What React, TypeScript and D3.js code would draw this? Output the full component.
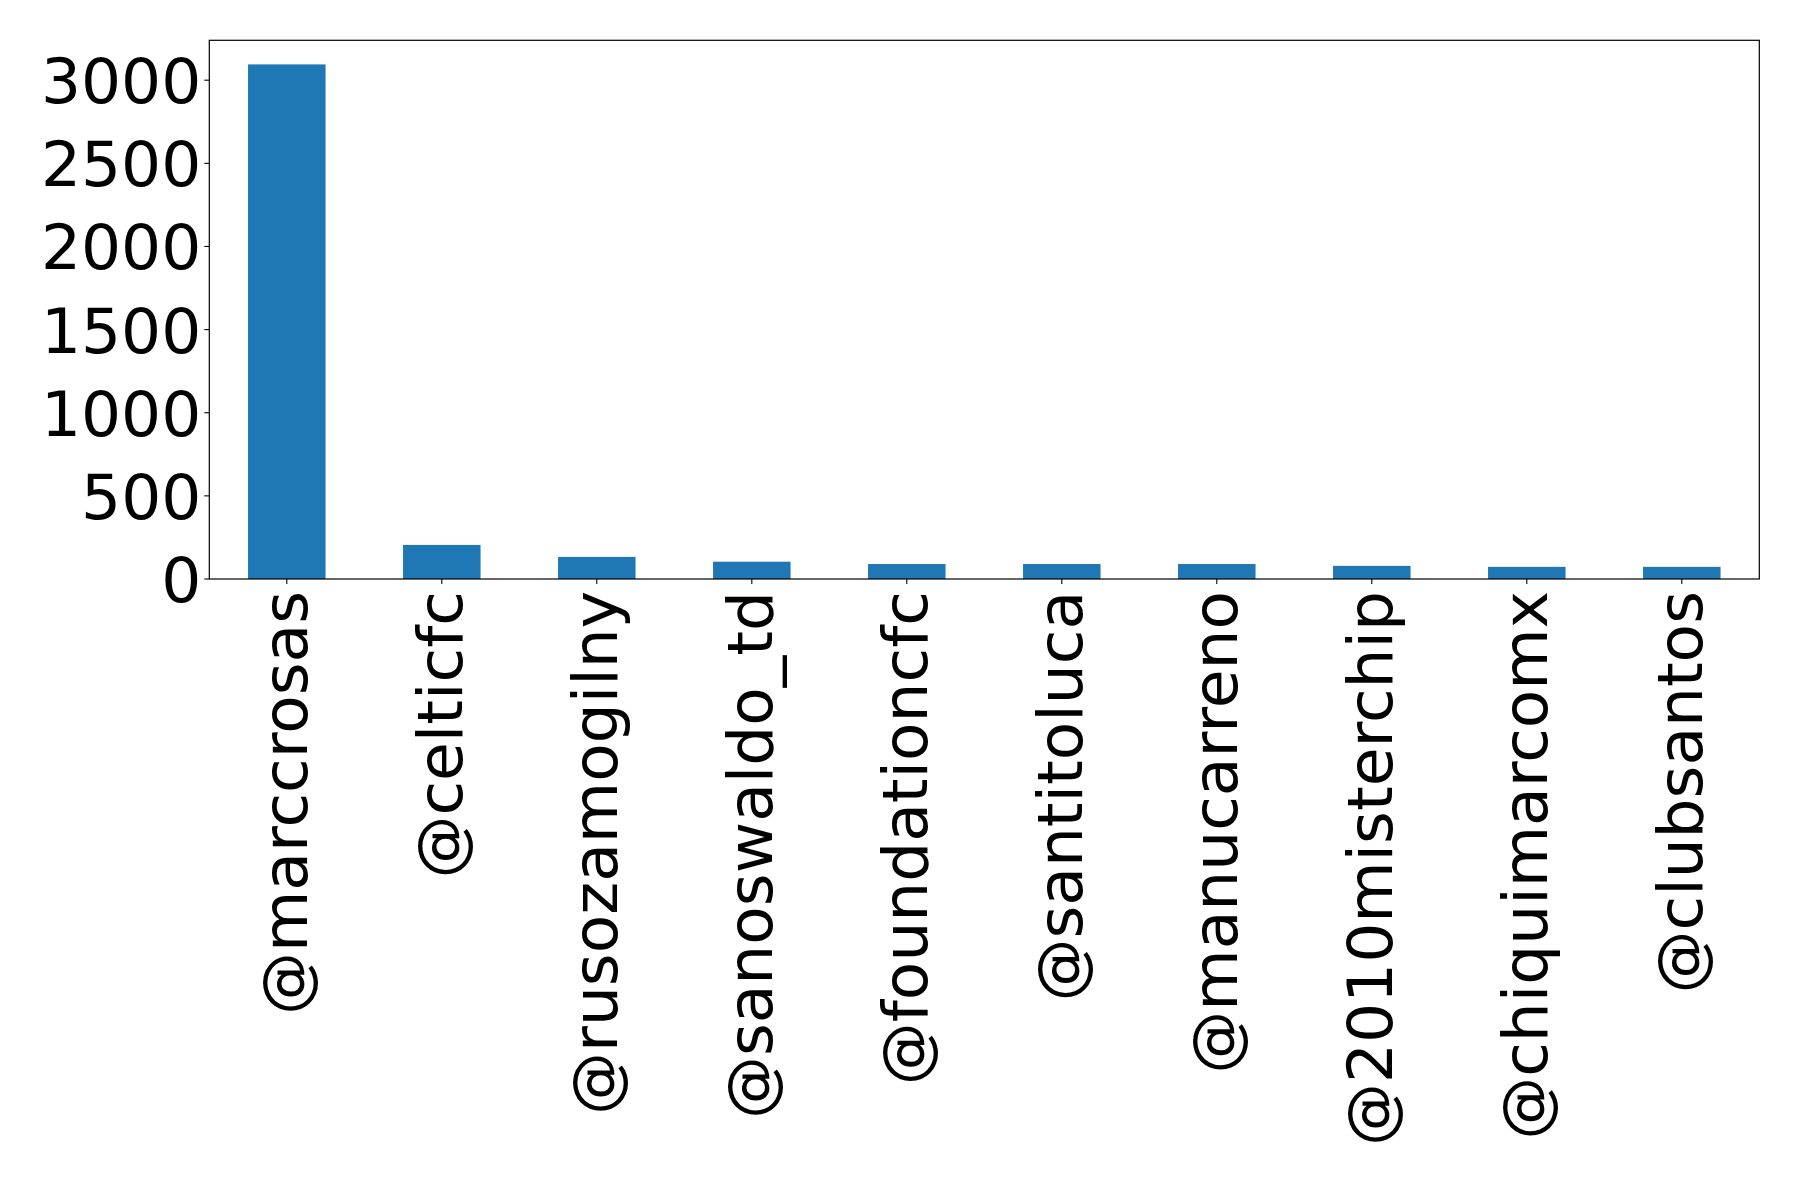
import React from "react";
import * as d3 from "d3";

const categories = [
  "@marccrosas",
  "@celticfc",
  "@rusozamogilny",
  "@sanoswaldo_td",
  "@foundationcfc",
  "@santitoluca",
  "@manucarreno",
  "@2010misterchip",
  "@chiquimarcomx",
  "@clubsantos",
];
const values = [3095, 205, 133, 104, 90, 90, 90, 79, 73, 73];
const yTicks = [0, 500, 1000, 1500, 2000, 2500, 3000];

const W = 1798;
const H = 1179;
const left = 209.3;
const right = 1759.3;
const top = 40.3;
const bottom = 579;
const FS = 63;
const FONT = "'DejaVu Sans', sans-serif";

export default function App() {
  const x = d3
    .scaleBand<string>()
    .domain(categories)
    .range([left, right])
    .paddingInner(0.5)
    .paddingOuter(0.25);
  const y = d3
    .scaleLinear()
    .domain([0, 3240])
    .range([bottom, top]);

  return (
    <svg
      width={W}
      height={H}
      style={{ position: "absolute", left: 0, top: 0, background: "#fff" }}
      fontFamily={FONT}
    >
      <rect x={0} y={0} width={W} height={H} fill="#fff" />
      {categories.map((c, i) => (
        <rect
          key={c}
          x={x(c)!}
          y={y(values[i])}
          width={x.bandwidth()}
          height={y(0) - y(values[i])}
          fill="#1f77b4"
        />
      ))}
      <rect
        x={left}
        y={top}
        width={right - left}
        height={bottom - top}
        fill="none"
        stroke="#000"
        strokeWidth={1.2}
      />
      {yTicks.map((t) => (
        <g key={t}>
          <line x1={left - 5} x2={left} y1={y(t)} y2={y(t)} stroke="#000" strokeWidth={1.1} />
          <text
            x={left - 8}
            y={y(t) + 0.729 * FS / 2}
            textAnchor="end"
            fontSize={FS}
            fill="#000"
          >
            {t}
          </text>
        </g>
      ))}
      {categories.map((c) => {
        const cx = x(c)! + x.bandwidth() / 2;
        return (
          <g key={c}>
            <line x1={cx} x2={cx} y1={bottom} y2={bottom + 5} stroke="#000" strokeWidth={1.1} />
            <text
              transform={`translate(${cx},${bottom + 12}) rotate(-90)`}
              x={0}
              y={20}
              textAnchor="end"
              fontSize={FS}
              fill="#000"
            >
              {c}
            </text>
          </g>
        );
      })}
    </svg>
  );
}
